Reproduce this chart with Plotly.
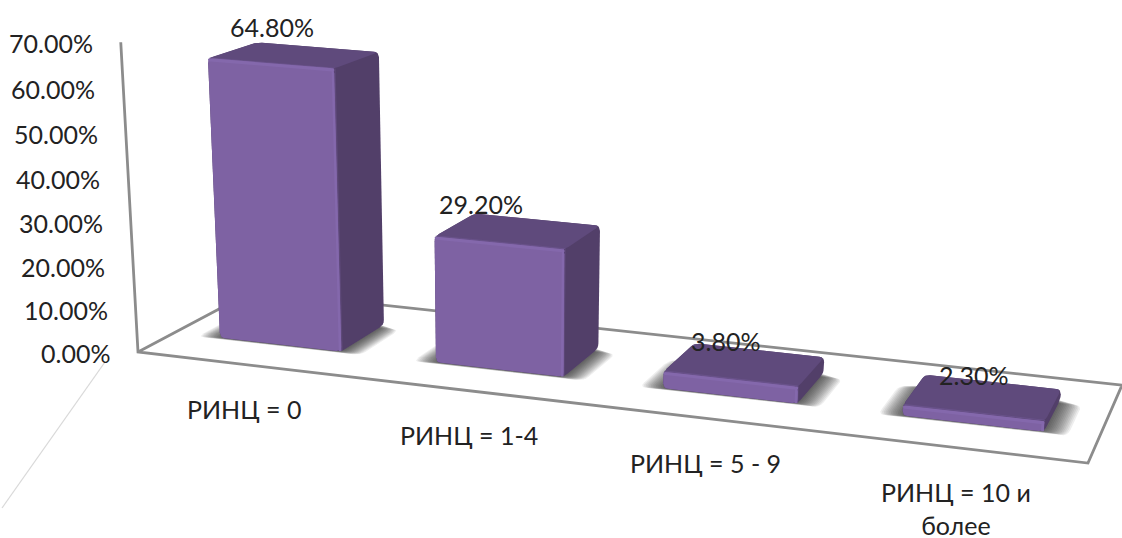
import plotly.graph_objects as go

# ---------- data ----------
categories = ["РИНЦ = 0", "РИНЦ = 1-4", "РИНЦ = 5 - 9", "РИНЦ = 10 и<br>более"]
values = [64.8, 29.2, 3.8, 2.3]
value_labels = ["64.80%", "29.20%", "3.80%", "2.30%"]
tick_values = [0, 10, 20, 30, 40, 50, 60, 70]
tick_labels = ["0.00%", "10.00%", "20.00%", "30.00%", "40.00%", "50.00%", "60.00%", "70.00%"]

# ---------- perspective of the chart box (homography + vertical vanishing) ----------
A, B, C = 840.2, 139.6, 138.0
D, E, F = 64.3, -32.7, 352.0
G, H = -0.1009, 0.0971
K, VX, VY = -0.000636, 508.0, 7000.0


def project(u, v, z):
    zk = z * K
    w = G * u + H * v + 1 + zk
    return ((A * u + B * v + C + zk * VX) / w, (D * u + E * v + F + zk * VY) / w)


def rounded(pts, r):
    out = []
    n = len(pts)
    for i in range(n):
        p0, p1, p2 = pts[i - 1], pts[i], pts[(i + 1) % n]
        d0 = ((p0[0] - p1[0]) ** 2 + (p0[1] - p1[1]) ** 2) ** 0.5
        d2 = ((p2[0] - p1[0]) ** 2 + (p2[1] - p1[1]) ** 2) ** 0.5
        r0, r2 = min(r, d0 / 2) / d0, min(r, d2 / 2) / d2
        a = (p1[0] + (p0[0] - p1[0]) * r0, p1[1] + (p0[1] - p1[1]) * r0)
        b = (p1[0] + (p2[0] - p1[0]) * r2, p1[1] + (p2[1] - p1[1]) * r2)
        for t in (0, 0.25, 0.5, 0.75, 1):
            out.append(((1 - t) ** 2 * a[0] + 2 * t * (1 - t) * p1[0] + t * t * b[0],
                        (1 - t) ** 2 * a[1] + 2 * t * (1 - t) * p1[1] + t * t * b[1]))
    return out


fig = go.Figure()


def poly(pts3d, color, r=0.0):
    pts = [project(*p) for p in pts3d]
    if r:
        pts = rounded(pts, r)
    pts.append(pts[0])
    fig.add_trace(go.Scatter(x=[p[0] for p in pts], y=[p[1] for p in pts], mode="lines",
                             fill="toself", fillcolor=color, line=dict(width=0),
                             hoverinfo="skip", showlegend=False))


def line3d(pts3d, color, width):
    pts = [project(*p) for p in pts3d]
    fig.add_trace(go.Scatter(x=[p[0] for p in pts], y=[p[1] for p in pts], mode="lines",
                             line=dict(color=color, width=width),
                             hoverinfo="skip", showlegend=False))


# side wall trace, floor outline, vertical axis
fig.add_trace(go.Scatter(x=[105, 2], y=[362, 508], mode="lines", line=dict(color="#d9d9d9", width=1.3),
                         hoverinfo="skip", showlegend=False))
line3d([(0, 0, 70), (0, 0, 0), (1, 0, 0), (1, 1, 0), (0, 1, 0), (0, 0, 0)], "#8c8c8c", 2.8)

BW, V0, V1 = 0.142, 0.30, 0.72
FRONT, RIGHT, TOP = "#7E62A3", "#523F69", "#5F4A7C"
FRONT_HI, RIGHT_HI, TOP_HI = "#8468AC", "#5E4979", "#69528A"

n = len(values)
LAYERS = 14
for i, val in enumerate(values):
    uc = (i + 0.5) / n
    u0, u1 = uc - BW / 2, uc + BW / 2
    # soft floor shadow: stacked translucent footprints
    for s in range(LAYERS):
        m = 0.024 * (1 - s / LAYERS)
        poly([(u0 - m, V0 - m * 0.8, 0), (u1 + m, V0 - m * 0.8, 0),
              (u1 + m, V1 - m * 2, 0), (u0 - m, V1 - m * 2, 0)],
             "rgba(25,25,25,0.075)", 7)

for i, val in enumerate(values):
    uc = (i + 0.5) / n
    u0, u1 = uc - BW / 2, uc + BW / 2
    b = 0.7  # bevel in value units
    du, dv = 0.003, 0.012
    # silhouette / right face
    poly([(u0, V0, 0), (u1, V0, 0), (u1, V1, 0), (u1, V1, val), (u0, V1, val), (u0, V0, val)], RIGHT, 5)
    # top face
    poly([(u0, V0, val), (u1, V0, val), (u1, V1, val), (u0, V1, val)], TOP, 5)
    # lighter edge between top and front
    poly([(u0, V0, val), (u1, V0, val), (u1, V0 + dv * 1.5, val), (u0, V0 + dv * 1.5, val)], TOP_HI, 1)
    # lighter edge between right and front
    poly([(u1, V0, 0), (u1, V0 + dv, 0), (u1, V0 + dv, val), (u1, V0, val)], RIGHT_HI, 1)
    # front face
    poly([(u0, V0, 0), (u1, V0, 0), (u1, V0, val), (u0, V0, val)], FRONT, 5)
    poly([(u0, V0, val - b), (u1, V0, val - b), (u1, V0, val), (u0, V0, val)], FRONT_HI, 2)
    poly([(u1 - du, V0, 0), (u1, V0, 0), (u1, V0, val), (u1 - du, V0, val)], FRONT_HI, 1)

FONT = dict(family="Lato, 'Noto Sans', sans-serif", size=25, color="#222222")
annotations = []


def note(x, y, text, xanchor="center", yanchor="middle"):
    annotations.append(dict(x=x, y=y, xref="x", yref="y", text=text, showarrow=False,
                            xanchor=xanchor, yanchor=yanchor, font=FONT, align="center"))


for tv, tl in zip(tick_values, tick_labels):
    x, y = project(0, 0, tv)
    note(x - 26, y + 0.5, tl, xanchor="right")

label_offsets = [(-23, -28), (-37, -27), (-19, -23), (-10, -22)]
for i, (val, lab) in enumerate(zip(values, value_labels)):
    x, y = project((i + 0.5) / n, (V0 + V1) / 2, val)
    note(x + label_offsets[i][0], y + label_offsets[i][1], lab)

for i, cat in enumerate(categories):
    x, y = project((i + 0.5) / n, 0, 0)
    note(x - 2, y + 27, cat, yanchor="top")

fig.update_layout(
    width=1122, height=538, margin=dict(l=0, r=0, t=0, b=0),
    paper_bgcolor="white", plot_bgcolor="white",
    xaxis=dict(range=[0, 1122], visible=False, fixedrange=True),
    yaxis=dict(range=[538, 0], visible=False, fixedrange=True),
    annotations=annotations, showlegend=False,
)
fig.write_html("out.html", config=dict(displayModeBar=False),
               post_script="document.body.style.margin='0';")
